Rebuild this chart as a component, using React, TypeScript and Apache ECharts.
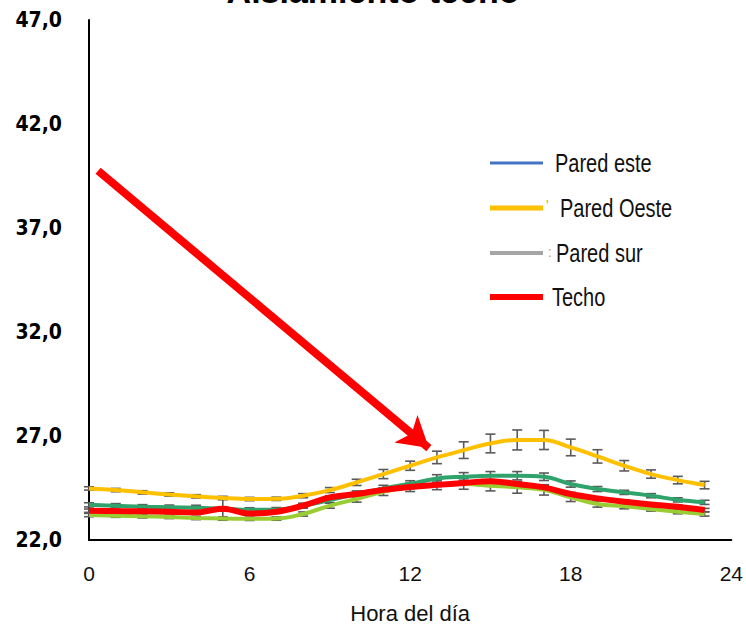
import React, { useEffect, useRef } from "react";
import * as echarts from "echarts";

const hours = [0, 1, 2, 3, 4, 5, 6, 7, 8, 9, 10, 11, 12, 13, 14, 15, 16, 17, 18, 19, 20, 21, 22, 23];

const paredEste = [23.69, 23.65, 23.6, 23.58, 23.55, 23.5, 23.45, 23.46, 23.65, 23.92, 24.21, 24.48, 24.7, 24.96, 25.04, 25.09, 25.09, 25.04, 24.69, 24.45, 24.29, 24.13, 23.93, 23.81];
const paredOeste = [24.48, 24.4, 24.29, 24.19, 24.1, 24.02, 23.97, 23.98, 24.13, 24.4, 24.77, 25.17, 25.57, 25.97, 26.32, 26.64, 26.81, 26.81, 26.45, 26.02, 25.57, 25.17, 24.88, 24.64];
const paredSur = [23.2, 23.17, 23.14, 23.11, 23.06, 23.03, 23.02, 23.03, 23.25, 23.65, 23.97, 24.32, 24.53, 24.64, 24.69, 24.61, 24.53, 24.41, 24.05, 23.73, 23.62, 23.49, 23.36, 23.25];
const techo = [23.41, 23.39, 23.38, 23.36, 23.32, 23.5, 23.27, 23.36, 23.65, 24.05, 24.21, 24.41, 24.55, 24.65, 24.74, 24.83, 24.69, 24.53, 24.21, 24.0, 23.84, 23.71, 23.6, 23.44];

const errEste = [0.1, 0.1, 0.1, 0.1, 0.12, 0.1, 0.1, 0.1, 0.12, 0.12, 0.15, 0.15, 0.15, 0.18, 0.2, 0.2, 0.2, 0.18, 0.15, 0.12, 0.1, 0.1, 0.1, 0.1];
const errOeste = [0.08, 0.08, 0.08, 0.08, 0.08, 0.08, 0.08, 0.08, 0.1, 0.12, 0.15, 0.22, 0.22, 0.3, 0.4, 0.45, 0.48, 0.46, 0.4, 0.32, 0.25, 0.2, 0.18, 0.18];
const errSur = [0.08, 0.08, 0.08, 0.08, 0.08, 0.08, 0.08, 0.08, 0.1, 0.12, 0.15, 0.18, 0.2, 0.22, 0.25, 0.25, 0.28, 0.25, 0.2, 0.15, 0.12, 0.1, 0.1, 0.1];
const errTecho = [0.08, 0.08, 0.08, 0.08, 0.08, 0.45, 0.08, 0.08, 0.08, 0.08, 0.08, 0.08, 0.08, 0.08, 0.08, 0.08, 0.08, 0.08, 0.08, 0.08, 0.08, 0.08, 0.08, 0.08];

const yMin = 22;
const yMax = 47;
const yStep = 5;
const xTicks = [0, 6, 12, 18, 24];

const arrowStart = [0.34, 39.75];
const arrowEnd = [12.7, 26.42];

const legendNames = ["Pared este", "Pared Oeste", "Pared sur", "Techo"];
const legendColors = ["#4472C4", "#FFC000", "#A5A5A5", "#FF0000"];
const lineColors = ["#2FA36B", "#FFC000", "#9ACD32", "#FF0000"];

function pairs(vals: number[]) {
  return hours.map((h, i) => [h, vals[i]]);
}
function errData(vals: number[], errs: number[]) {
  return hours.map((h, i) => [h, vals[i] - errs[i], vals[i] + errs[i]]);
}

const errRender = (params: any, api: any) => {
  const x = api.value(0);
  const lo = api.coord([x, api.value(1)]);
  const hi = api.coord([x, api.value(2)]);
  const hw = 5;
  const style = { stroke: "#5A5A5A", lineWidth: 1.6 };
  return {
    type: "group",
    children: [
      { type: "line", shape: { x1: lo[0], y1: lo[1], x2: hi[0], y2: hi[1] }, style },
      { type: "line", shape: { x1: lo[0] - hw, y1: lo[1], x2: lo[0] + hw, y2: lo[1] }, style },
      { type: "line", shape: { x1: hi[0] - hw, y1: hi[1], x2: hi[0] + hw, y2: hi[1] }, style },
    ],
  };
};

export default function App() {
  const ref = useRef<HTMLDivElement>(null);
  useEffect(() => {
    document.body.style.margin = "0";
    document.body.style.overflow = "hidden";
    if (!ref.current) return;
    const chart = echarts.init(ref.current, null, { renderer: "svg" });
    const allVals = [paredEste, paredOeste, paredSur, techo];
    const allErrs = [errEste, errOeste, errSur, errTecho];
    const widths = [4, 4, 4, 6];
    const series: any[] = [];
    allVals.forEach((v, i) => {
      series.push({
        type: "custom",
        name: legendNames[i] + " err",
        renderItem: errRender,
        data: errData(v, allErrs[i]),
        z: 1,
        silent: true,
      });
    });
    const order = [0, 2, 1, 3];
    order.forEach((i) => {
      const s: any = {
        type: "line",
        name: legendNames[i],
        data: pairs(allVals[i]),
        smooth: 0.4,
        showSymbol: false,
        symbol: "none",
        lineStyle: { color: lineColors[i], width: widths[i] },
        itemStyle: { color: lineColors[i] },
        z: 3 + i,
        silent: true,
      };
      if (i === 3) {
        s.markLine = {
          silent: true,
          symbol: ["none", "arrow"],
          symbolSize: [27, 30],
          label: { show: false },
          lineStyle: { color: "#FF0000", width: 8, type: "solid" },
          data: [[{ coord: arrowStart }, { coord: arrowEnd }]],
        };
      }
      series.push(s);
    });

    const legendY = [163, 208, 253, 297];
    const legendLineW = [3, 5, 4, 6];
    const legendTextX = [555, 560, 556, 552];
    const graphic: any[] = [];
    legendNames.forEach((n, i) => {
      graphic.push({
        type: "line",
        shape: { x1: 490, y1: legendY[i], x2: 543, y2: legendY[i] },
        style: { stroke: legendColors[i], lineWidth: legendLineW[i] },
      });
      graphic.push({
        type: "text",
        x: legendTextX[i],
        y: legendY[i] + 1,
        scaleX: 0.8,
        style: {
          text: n,
          fill: "#111111",
          font: "25px 'Liberation Sans', Arial, sans-serif",
          verticalAlign: "middle",
          align: "left",
        },
      });
    });
    graphic.push({
      type: "text",
      x: 546,
      y: 205,
      style: { text: "'", fill: "#E0A800", font: "14px 'Liberation Sans', Arial, sans-serif", verticalAlign: "middle" },
    });
    graphic.push({
      type: "text",
      x: 548,
      y: 252,
      style: { text: ":", fill: "#E0A800", font: "14px 'Liberation Sans', Arial, sans-serif", verticalAlign: "middle" },
    });

    chart.setOption({
      animation: false,
      title: {
        text: "Aislamiento techo",
        left: "center",
        top: -31,
        textStyle: { fontFamily: "'Liberation Sans', Arial, sans-serif", fontWeight: "bold", fontSize: 34, color: "#000" },
      },
      grid: { left: 89, right: 14, top: 20, bottom: 88, containLabel: false },
      xAxis: {
        type: "value",
        min: xTicks[0],
        max: xTicks[xTicks.length - 1],
        interval: 6,
        name: "Hora del día",
        nameLocation: "middle",
        nameGap: 62,
        nameTextStyle: { fontFamily: "'Liberation Sans', Arial, sans-serif", fontSize: 22, color: "#111" },
        axisLine: { show: true, lineStyle: { color: "#000", width: 2 } },
        axisTick: { show: false },
        splitLine: { show: false },
        axisLabel: {
          margin: 23,
          fontFamily: "'Liberation Sans', Arial, sans-serif",
          fontSize: 21,
          color: "#111",
        },
      },
      yAxis: {
        type: "value",
        min: yMin,
        max: yMax,
        interval: yStep,
        axisLine: { show: true, lineStyle: { color: "#000", width: 2 } },
        axisTick: { show: false },
        splitLine: { show: false },
        axisLabel: {
          margin: 27,
          fontFamily: "'DejaVu Sans Condensed', 'DejaVu Sans', sans-serif",
          fontWeight: "bold",
          fontSize: 21,
          color: "#000",
          formatter: (v: number) => v.toFixed(1).replace(".", ","),
        },
      },
      graphic,
      series,
    });
    return () => chart.dispose();
  }, []);
  return <div ref={ref} style={{ width: 746, height: 629 }} />;
}
